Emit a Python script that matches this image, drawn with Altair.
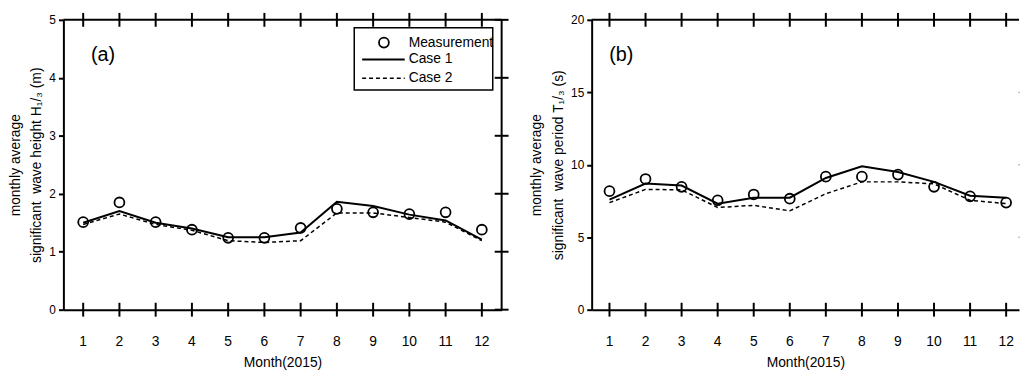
import altair as alt
import pandas as pd

months = list(range(1, 13))
h_meas = [1.51, 1.85, 1.51, 1.38, 1.24, 1.24, 1.41, 1.74, 1.68, 1.65, 1.68, 1.38]
h_case1 = [1.50, 1.70, 1.50, 1.40, 1.25, 1.25, 1.33, 1.86, 1.79, 1.64, 1.54, 1.21]
h_case2 = [1.47, 1.65, 1.47, 1.37, 1.19, 1.16, 1.19, 1.67, 1.67, 1.59, 1.51, 1.19]
t_meas = [8.18, 9.02, 8.48, 7.55, 7.95, 7.66, 9.18, 9.18, 9.32, 8.48, 7.82, 7.39]
t_case1 = [7.60, 8.70, 8.57, 7.32, 7.73, 7.73, 9.09, 9.89, 9.50, 8.82, 7.86, 7.73]
t_case2 = [7.39, 8.30, 8.27, 7.05, 7.20, 6.82, 8.00, 8.82, 8.82, 8.68, 7.55, 7.32]
h_ticks = [0, 1, 2, 3, 4, 5]
t_ticks = [0, 5, 10, 15, 20]
h_title = ["monthly average", "significant\u00a0 wave height H\u2081/\u2083 (m)"]
t_title = ["monthly average", "significant\u00a0 wave period T\u2081/\u2083 (s)"]
x_title = "Month(2015)"
legend_labels = ["Measurement", "Case 1", "Case 2"]

FONT = "Liberation Sans"
H = 293
LW = 2


def panel(meas, c1, c2, yticks, ytitle, tag, xdom, W, with_legend, right_frame):
    df = pd.DataFrame({"month": months, "meas": meas, "c1": c1, "c2": c2})
    one = pd.DataFrame({"k": [0]})
    xs = alt.Scale(domain=xdom, nice=False, zero=False)
    ys = alt.Scale(domain=[yticks[0], yticks[-1]], nice=False)
    xax = alt.Axis(values=months, title=x_title, ticks=False, labels=False, domain=True,
                   domainColor="black", domainWidth=LW, grid=False,
                   titleFontSize=14, titleFontWeight="normal", titlePadding=46)
    yax = alt.Axis(values=yticks, title=ytitle, tickSize=5, tickColor="black",
                   tickWidth=LW, domain=True, domainColor="black", domainWidth=LW,
                   grid=False, labelFontSize=12, titleFontSize=14,
                   titleFontWeight="normal", labelPadding=3, titlePadding=5,
                   titleLineHeight=22, format="d", labelOverlap=False)
    base = alt.Chart(df)
    l1 = base.mark_line(color="black", strokeWidth=2).encode(
        x=alt.X("month:Q", scale=xs, axis=xax),
        y=alt.Y("c1:Q", scale=ys, axis=yax))
    l2 = base.mark_line(color="black", strokeWidth=1.5, strokeDash=[4, 3]).encode(
        x="month:Q", y="c2:Q")
    pts = base.mark_point(shape="circle", size=100, filled=False, color="black",
                          strokeWidth=1.8, opacity=1).encode(x="month:Q", y="meas:Q")

    tdf = pd.DataFrame({"month": months})
    xl = alt.Chart(tdf).mark_text(fontSize=14, font=FONT, color="black",
                                  baseline="middle", align="center").encode(
        x="month:Q", y=alt.value(H + 33), text=alt.Text("month:Q", format="d"))
    bt = alt.Chart(tdf).mark_rule(color="black", strokeWidth=LW).encode(
        x="month:Q", y=alt.value(H - 7), y2=alt.value(H + 7))
    tt = alt.Chart(tdf).mark_rule(color="black", strokeWidth=LW).encode(
        x="month:Q", y=alt.value(-7), y2=alt.value(7))
    top = alt.Chart(one).mark_rule(color="black", strokeWidth=LW).encode(
        x=alt.value(0), x2=alt.value(W), y=alt.value(0))
    layers = [l2, l1, pts, xl, bt, tt, top]

    ydf = pd.DataFrame({"v": yticks})
    if right_frame:
        rf = alt.Chart(one).mark_rule(color="black", strokeWidth=LW).encode(
            x=alt.value(W), y=alt.value(0), y2=alt.value(H))
        rt = alt.Chart(ydf).mark_rule(color="black", strokeWidth=LW).encode(
            y="v:Q", x=alt.value(W - 7), x2=alt.value(W + 7))
        layers += [rf, rt]
    else:
        rt = alt.Chart(ydf[(ydf.v > yticks[0]) & (ydf.v < yticks[-1])]).mark_rule(
            color="#aaaaaa", strokeWidth=1).encode(
            y="v:Q", x=alt.value(W - 1), x2=alt.value(W + 1))
        layers += [rt]

    lab = alt.Chart(one).mark_text(text=tag, fontSize=20, font=FONT, color="black",
                                   fontWeight="normal", align="center",
                                   baseline="middle").encode(
        x=alt.value(40 if with_legend else 30), y=alt.value(36))
    layers.append(lab)

    if with_legend:
        bx = alt.Chart(one).mark_rect(fill="white", stroke=None).encode(
            x=alt.value(294), x2=alt.value(434), y=alt.value(8), y2=alt.value(71))
        mp = alt.Chart(one).mark_point(shape="circle", size=100, filled=False,
                                       color="black", strokeWidth=1.8, opacity=1).encode(
            x=alt.value(324), y=alt.value(23))
        lr1 = alt.Chart(one).mark_rule(color="black", strokeWidth=2).encode(
            x=alt.value(302), x2=alt.value(345), y=alt.value(40))
        lr2 = alt.Chart(one).mark_rule(color="black", strokeWidth=1.5, strokeDash=[4, 3]).encode(
            x=alt.value(302), x2=alt.value(345), y=alt.value(59))
        ldf = pd.DataFrame({"t": legend_labels, "yy": [23, 40, 59]})
        lt = alt.Chart(ldf).mark_text(fontSize=14, font=FONT, color="black",
                                      fontWeight="normal", align="left",
                                      baseline="middle").encode(
            text="t:N", x=alt.value(349), y=alt.Y("yy:Q", scale=None))
        bd = alt.Chart(one).mark_rect(fill=None, stroke="black", strokeWidth=1.5).encode(
            x=alt.value(294), x2=alt.value(434), y=alt.value(8), y2=alt.value(71))
        layers += [bx, mp, lr1, lr2, lt, bd]

    return alt.layer(*layers).properties(width=W, height=H)


pa = panel(h_meas, h_case1, h_case2, h_ticks, h_title, "(a)",
           [0.454, 12.546], 443, True, True)
pb = panel(t_meas, t_case1, t_case2, t_ticks, t_title, "(b)",
           [0.506, 12.357], 432, False, False)

chart = alt.hconcat(pa, pb, spacing=20).properties(
    padding={"left": 0, "top": 2, "right": 0, "bottom": 0}
).configure_view(stroke=None).configure_axis(
    labelFont=FONT, titleFont=FONT, labelColor="black", titleColor="black"
)

chart.save("out.html", embed_options={"renderer": "svg", "actions": False})
